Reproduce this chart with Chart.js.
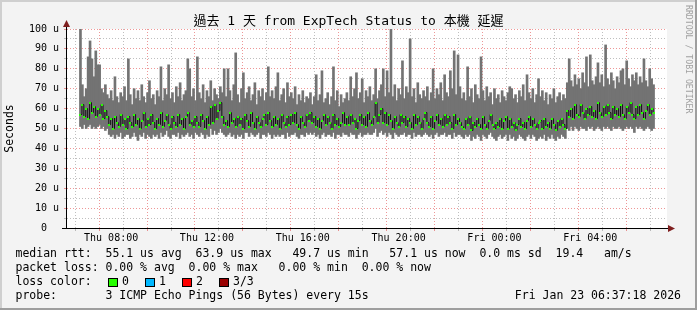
<!DOCTYPE html>
<html lang="zh-Hant">
<head>
<meta charset="utf-8">
<title>ExpTech Status latency</title>
<script src="https://cdn.jsdelivr.net/npm/chart.js@4.4.1/dist/chart.umd.min.js"></script>
<style>
  html, body { margin: 0; padding: 0; background: #f3f3f3; }
  canvas { display: block; }
</style>
</head>
<body>
<canvas id="ping" width="697" height="310"></canvas>
<script>
// one column every 4.8 min, starting Thu 06:40 (hours since Thu 00:00)
const startHour = 6.68;
const stepHours = 0.08;

// smoke top (max ping), microseconds
const maxRtt = [
  101, 72, 66, 70, 86, 94, 85, 76, 89, 82, 82, 70, 68, 72, 67, 65, 69, 64, 76, 66,
  63, 68, 66, 71, 64, 85, 67, 62, 70, 65, 69, 64, 72, 66, 63, 68, 74, 65, 67, 62,
  69, 66, 81, 64, 70, 67, 82, 65, 68, 63, 71, 66, 73, 64, 67, 69, 85, 80, 66, 70,
  64, 86, 68, 65, 72, 63, 69, 66, 74, 64, 70, 67, 65, 71, 68, 80, 66, 80, 69, 64,
  72, 88, 67, 63, 70, 78, 65, 68, 71, 64, 67, 73, 62, 69, 66, 70, 64, 68, 81, 66,
  69, 65, 71, 78, 64, 67, 70, 63, 73, 66, 68, 65, 71, 62, 67, 64, 69, 63, 66, 65,
  68, 62, 66, 77, 64, 67, 79, 63, 65, 68, 62, 66, 81, 64, 69, 61, 67, 63, 65, 68,
  64, 76, 66, 70, 78, 65, 68, 75, 63, 69, 66, 71, 64, 67, 80, 65, 69, 72, 80, 66,
  79, 68, 101, 66, 72, 64, 70, 67, 84, 65, 71, 68, 95, 66, 70, 63, 73, 67, 65, 69,
  66, 71, 64, 68, 80, 65, 70, 67, 73, 64, 77, 68, 66, 79, 70, 89, 67, 87, 71, 65,
  68, 64, 81, 66, 70, 63, 72, 67, 65, 86, 69, 64, 71, 66, 68, 62, 70, 65, 67, 63,
  69, 66, 64, 68, 71, 70, 65, 67, 63, 69, 66, 72, 64, 77, 68, 65, 70, 63, 67, 75,
  66, 69, 64, 68, 62, 67, 65, 70, 63, 66, 68, 64, 67, 65, 73, 85, 74, 71, 77, 72,
  75, 70, 78, 73, 86, 71, 87, 74, 72, 76, 83, 73, 77, 71, 92, 75, 72, 78, 74, 70,
  76, 73, 79, 80, 72, 84, 75, 71, 77, 74, 78, 72, 76, 73, 85, 74, 71, 80, 75, 72
];

// median rtt
const medianRtt = [
  57, 62, 56, 60, 55, 63, 58, 61, 56, 60, 57, 62, 55, 59, 56, 52, 55, 50, 56, 53,
  51, 57, 52, 55, 50, 56, 53, 51, 57, 52, 55, 50, 54, 58, 51, 55, 52, 57, 53, 50,
  55, 52, 58, 51, 54, 57, 52, 50, 56, 53, 51, 57, 52, 55, 50, 56, 58, 52, 54, 51,
  56, 53, 51, 57, 54, 50, 56, 52, 61, 53, 62, 55, 59, 63, 56, 52, 54, 51, 58, 53,
  55, 51, 56, 52, 55, 50, 57, 54, 51, 58, 53, 50, 56, 53, 51, 55, 57, 52, 58, 54,
  51, 56, 52, 55, 50, 57, 53, 51, 56, 52, 57, 53, 58, 52, 50, 56, 53, 51, 57, 54,
  58, 53, 56, 51, 55, 50, 54, 57, 52, 56, 53, 50, 57, 52, 55, 51, 53, 58, 52, 56,
  52, 57, 53, 55, 50, 54, 57, 52, 56, 51, 58, 54, 52, 56, 63, 53, 57, 60, 53, 58,
  52, 57, 54, 50, 56, 53, 51, 57, 53, 56, 51, 55, 53, 50, 57, 52, 56, 53, 50, 55,
  58, 53, 51, 56, 50, 54, 57, 52, 55, 51, 57, 52, 56, 53, 50, 57, 52, 55, 53, 51,
  50, 55, 52, 56, 49, 53, 51, 55, 52, 50, 56, 52, 50, 54, 57, 52, 50, 53, 51, 55,
  50, 54, 56, 50, 55, 51, 53, 49, 52, 55, 51, 53, 50, 54, 56, 51, 55, 52, 50, 53,
  54, 50, 55, 51, 53, 50, 55, 52, 49, 54, 51, 55, 52, 50, 59, 56, 60, 55, 62, 57,
  56, 62, 58, 55, 60, 57, 61, 56, 59, 55, 63, 58, 56, 61, 57, 62, 58, 55, 61, 57,
  60, 56, 62, 57, 55, 61, 58, 63, 57, 55, 61, 57, 62, 58, 55, 59, 62, 57, 60, 58
];

// smoke bottom (min ping)
const minRtt = [
  51, 50, 52, 50, 51, 52, 50, 51, 50, 51, 52, 50, 51, 49, 50, 47, 46, 47, 45, 47,
  46, 48, 45, 46, 47, 47, 45, 46, 48, 46, 44, 47, 46, 48, 45, 47, 46, 45, 47, 46,
  47, 45, 48, 46, 47, 49, 46, 45, 47, 47, 46, 48, 45, 47, 46, 47, 48, 46, 47, 45,
  48, 47, 46, 48, 47, 45, 47, 46, 50, 47, 49, 47, 48, 50, 48, 47, 46, 47, 48, 46,
  47, 45, 47, 46, 47, 45, 48, 48, 46, 48, 47, 46, 47, 48, 45, 47, 47, 46, 48, 47,
  45, 47, 46, 47, 46, 47, 47, 45, 48, 46, 47, 47, 48, 46, 45, 47, 47, 46, 48, 47,
  48, 47, 48, 46, 47, 45, 47, 48, 46, 47, 47, 46, 48, 45, 47, 47, 46, 48, 47, 47,
  46, 48, 47, 47, 45, 47, 48, 46, 47, 47, 48, 47, 47, 48, 50, 46, 48, 49, 47, 48,
  46, 48, 47, 45, 48, 47, 46, 47, 47, 48, 46, 47, 47, 45, 48, 46, 47, 47, 46, 47,
  48, 47, 46, 47, 45, 47, 48, 46, 47, 47, 48, 46, 47, 47, 45, 48, 46, 47, 47, 46,
  45, 47, 46, 47, 44, 46, 45, 47, 46, 44, 47, 46, 45, 47, 48, 46, 45, 44, 46, 47,
  45, 46, 47, 44, 47, 45, 46, 44, 45, 47, 46, 45, 44, 46, 47, 45, 47, 46, 44, 45,
  46, 45, 47, 44, 46, 45, 47, 45, 44, 46, 45, 47, 46, 45, 50, 49, 51, 49, 51, 50,
  49, 51, 50, 50, 49, 51, 50, 51, 49, 50, 51, 50, 49, 51, 50, 51, 50, 49, 51, 50,
  50, 51, 50, 49, 50, 51, 50, 51, 50, 48, 51, 50, 51, 50, 49, 50, 51, 50, 49, 50
];

const yTicks = [0, 5, 10, 15, 20, 25, 30, 35, 40, 45, 50, 55, 60, 65, 70, 75, 80, 85, 90, 95, 100];
const xTicks = [7, 8, 9, 10, 11, 12, 13, 14, 15, 16, 17, 18, 19, 20, 21, 22, 23, 24, 25, 26, 27, 28, 29, 30];

const titleText = '過去 1 天 from ExpTech Status to 本機 延遲';
const legendLines = [
  'median rtt:  55.1 us avg  63.9 us max   49.7 us min   57.1 us now  0.0 ms sd  19.4   am/s',
  'packet loss: 0.00 % avg  0.00 % max   0.00 % min  0.00 % now',
  'loss color:',
  'probe:       3 ICMP Echo Pings (56 Bytes) every 15s'
];
const lossColors = [['0', '#26ff00'], ['1', '#00b8ff'], ['2', '#ff0000'], ['3/3', '#990000']];
const stampText = 'Fri Jan 23 06:37:18 2026';

const times = maxRtt.map((v, i) => startHour + stepHours * (i + 0.5));

const mono = "'DejaVu Sans Mono', monospace";
const redGrid = 'rgba(222,48,48,0.5)';
const grayGrid = 'rgba(128,128,128,0.5)';

// little green mark drawn on each median
const dot = document.createElement('canvas');
dot.width = 2; dot.height = 2;
const dctx = dot.getContext('2d');
dctx.fillStyle = '#26ff00';
dctx.fillRect(0, 0, 2, 2);

const rrdLook = {
  id: 'rrdLook',
  beforeDraw(chart) {
    const {ctx, chartArea: a} = chart;
    ctx.save();
    ctx.fillStyle = '#f3f3f3';
    ctx.fillRect(0, 0, chart.width, chart.height);
    ctx.fillStyle = '#ffffff';
    ctx.fillRect(a.left, a.top, a.right - a.left, a.bottom - a.top);
    ctx.restore();
  },
  beforeDatasetDraw(chart, args) {
    if (args.index === 1) { chart.ctx.save(); chart.ctx.translate(0.5, 0); }
  },
  afterDatasetDraw(chart, args) {
    if (args.index === 1) chart.ctx.restore();
  },
  afterDraw(chart) {
    const {ctx, chartArea: a} = chart;
    const W = chart.width, H = chart.height;
    ctx.save();

    // axes + arrows
    ctx.strokeStyle = '#000';
    ctx.lineWidth = 1;
    ctx.beginPath();
    ctx.moveTo(a.left - 0.5, a.bottom + 0.5);
    ctx.lineTo(a.left - 0.5, a.top - 5);
    ctx.moveTo(a.left - 5, a.bottom + 0.5);
    ctx.lineTo(a.right + 3, a.bottom + 0.5);
    ctx.stroke();
    ctx.fillStyle = '#7f1f1f';
    ctx.beginPath();
    ctx.moveTo(a.left - 0.5, a.top - 9);
    ctx.lineTo(a.left - 4, a.top - 2);
    ctx.lineTo(a.left + 3, a.top - 2);
    ctx.closePath();
    ctx.fill();
    ctx.beginPath();
    ctx.moveTo(a.right + 8, a.bottom + 0.5);
    ctx.lineTo(a.right + 1, a.bottom - 3);
    ctx.lineTo(a.right + 1, a.bottom + 4);
    ctx.closePath();
    ctx.fill();

    // title
    ctx.fillStyle = '#000';
    ctx.font = "13px 'DejaVu Sans Mono', 'Noto Sans CJK TC', monospace";
    ctx.textAlign = 'center';
    ctx.textBaseline = 'middle';
    ctx.fillText(titleText, W / 2, 21.5);

    // legend block
    ctx.font = '11.5px ' + mono;
    ctx.textAlign = 'left';
    legendLines.forEach((t, i) => ctx.fillText(t, 15.5, 254.5 + i * 14));
    const boxX = [108, 145, 182, 219];
    lossColors.forEach(([lab, col], i) => {
      ctx.fillStyle = col;
      ctx.fillRect(boxX[i] + 0.5, 278.5, 9, 8);
      ctx.strokeStyle = '#000';
      ctx.strokeRect(boxX[i] + 0.5, 278.5, 9, 8);
      ctx.fillStyle = '#000';
      ctx.fillText(lab, boxX[i] + 14, 282.5);
    });
    ctx.textAlign = 'right';
    ctx.fillText(stampText, 681, 296.5);

    // watermark on the right edge
    ctx.save();
    ctx.translate(688, 5);
    ctx.rotate(Math.PI / 2);
    ctx.font = '8.2px ' + mono;
    ctx.fillStyle = '#a0a0a0';
    ctx.textAlign = 'left';
    ctx.textBaseline = 'middle';
    ctx.fillText('RRDTOOL / TOBI OETIKER', 0, 0);
    ctx.restore();

    // 3d frame
    ctx.fillStyle = '#cfcfcf';
    ctx.fillRect(0, 0, W, 2);
    ctx.fillRect(0, 0, 2, H);
    ctx.fillStyle = '#9e9e9e';
    ctx.fillRect(W - 2, 0, 2, H);
    ctx.fillRect(0, H - 2, W, 2);
    ctx.restore();
  }
};

new Chart(document.getElementById('ping'), {
  type: 'bar',
  data: {
    datasets: [
      {
        type: 'bar',
        data: times.map((t, i) => ({x: t, y: [minRtt[i], maxRtt[i]]})),
        backgroundColor: '#737373',
        borderWidth: 0,
        barThickness: 2,
        grouped: false,
        order: 3
      },
      {
        type: 'line',
        data: times.map((t, i) => ({x: t, y: medianRtt[i]})),
        borderColor: '#141414',
        borderWidth: 1,
        stepped: 'middle',
        pointRadius: 0,
        order: 2
      },
      {
        type: 'line',
        data: times.map((t, i) => ({x: t, y: medianRtt[i]})),
        showLine: false,
        pointStyle: dot,
        pointRadius: 2,
        order: 1
      }
    ]
  },
  options: {
    responsive: false,
    animation: false,
    events: [],
    layout: { padding: { left: 0, right: 30, top: 29, bottom: 62 } },
    plugins: { legend: { display: false }, tooltip: { enabled: false }, title: { display: false } },
    scales: {
      x: {
        type: 'linear',
        min: startHour,
        max: startHour + 24,
        z: 1,
        afterBuildTicks: s => { s.ticks = xTicks.map(v => ({value: v})); },
        afterFit: s => { s.height = 20; },
        border: { display: false, dash: [1, 2] },
        grid: {
          color: c => (c.tick && c.tick.value % 2 === 0) ? redGrid : grayGrid,
          drawTicks: true,
          tickLength: 3,
          tickBorderDash: []
        },
        ticks: {
          autoSkip: false,
          maxRotation: 0,
          padding: 1,
          color: '#000',
          font: { family: mono, size: 10 },
          callback: v => {
            if (v % 4 !== 0) return '';
            const h = v % 24;
            return (v < 24 ? 'Thu ' : 'Fri ') + String(h).padStart(2, '0') + ':00';
          }
        }
      },
      y: {
        min: 0,
        max: 100,
        z: 1,
        afterBuildTicks: s => { s.ticks = yTicks.map(v => ({value: v})); },
        afterFit: s => { s.width = 67; },
        border: { display: false, dash: [1, 2] },
        grid: {
          color: c => {
            const v = c.tick ? c.tick.value : -1;
            if (v === 0) return 'rgba(0,0,0,0)';
            return v % 10 === 0 ? redGrid : grayGrid;
          },
          drawTicks: true,
          tickLength: 3,
          tickBorderDash: []
        },
        ticks: {
          autoSkip: false,
          padding: 5,
          color: '#000',
          font: { family: mono, size: 10 },
          callback: v => v % 10 !== 0 ? '' : (v === 0 ? '0  ' : v + ' u')
        },
        title: {
          display: true,
          text: 'Seconds',
          color: '#000',
          font: { family: mono, size: 11.5 },
          padding: { top: 3, bottom: 0 }
        }
      }
    }
  },
  plugins: [rrdLook]
});
</script>
</body>
</html>
